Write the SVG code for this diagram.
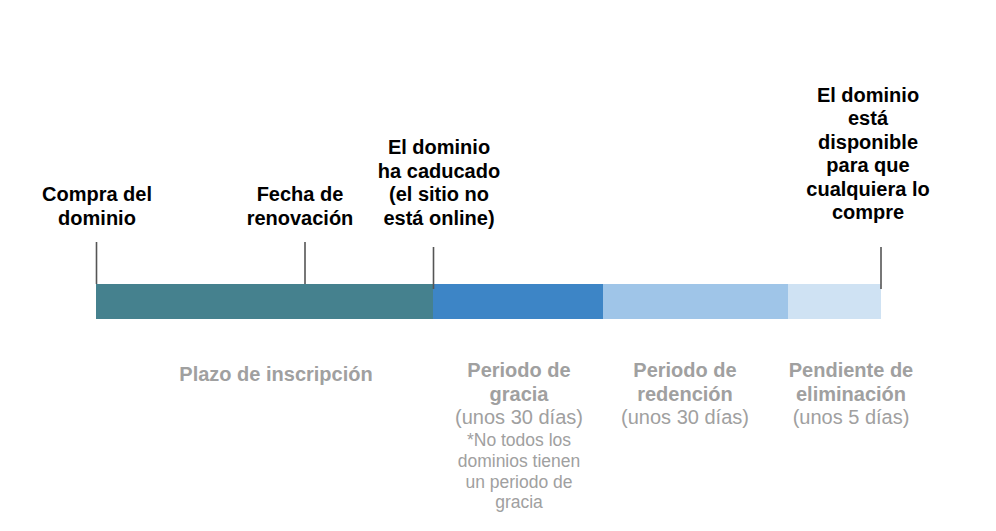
<svg xmlns="http://www.w3.org/2000/svg" width="996" height="531" viewBox="0 0 996 531">
<style>
.lbl{font-family:"Liberation Sans",Arial,sans-serif;font-weight:bold;font-size:20px;fill:#000;text-anchor:middle}
.per{font-family:"Liberation Sans",Arial,sans-serif;font-weight:bold;font-size:20px;fill:#a0a0a0;text-anchor:middle}
.dur{font-family:"Liberation Sans",Arial,sans-serif;font-size:20px;fill:#a0a0a0;text-anchor:middle}
.note{font-family:"Liberation Sans",Arial,sans-serif;font-size:17.5px;fill:#a0a0a0;text-anchor:middle}
.tick{stroke:#555555;stroke-width:1.6;fill:none}
</style>
<rect width="996" height="531" fill="#ffffff"/>
<g id="bar">
<rect x="96" y="284" width="337" height="35" fill="#45818e"/>
<rect x="433" y="284" width="170" height="35" fill="#3d85c6"/>
<rect x="603" y="284" width="185" height="35" fill="#9fc5e8"/>
<rect x="788" y="284" width="93" height="35" fill="#cfe2f3"/>
</g>
<g id="connectors">
<line class="tick" x1="96.5" y1="242" x2="96.5" y2="284"/>
<line class="tick" x1="305" y1="242" x2="305" y2="284"/>
<line class="tick" x1="433.5" y1="247" x2="433.5" y2="289"/>
<line class="tick" x1="881" y1="247" x2="881" y2="289"/>
</g>
<g id="compra">
<text class="lbl" x="97" y="201">Compra del</text>
<text class="lbl" x="97" y="224.5">dominio</text>
</g>
<g id="renovacion">
<text class="lbl" x="300" y="201">Fecha de</text>
<text class="lbl" x="300" y="224.5">renovación</text>
</g>
<g id="caducado">
<text class="lbl" x="439" y="154">El dominio</text>
<text class="lbl" x="439" y="177.5">ha caducado</text>
<text class="lbl" x="439" y="201">(el sitio no</text>
<text class="lbl" x="439" y="224.5">está online)</text>
</g>
<g id="disponible">
<text class="lbl" x="868" y="101.5">El dominio</text>
<text class="lbl" x="868" y="125">está</text>
<text class="lbl" x="868" y="148.5">disponible</text>
<text class="lbl" x="868" y="172">para que</text>
<text class="lbl" x="868" y="195.5">cualquiera lo</text>
<text class="lbl" x="868" y="219">compre</text>
</g>
<g id="plazo">
<text class="per" x="276" y="381">Plazo de inscripción</text>
</g>
<g id="gracia">
<text class="per" x="519" y="377">Periodo de</text>
<text class="per" x="519" y="400.5">gracia</text>
<text class="dur" x="519" y="423.5">(unos 30 días)</text>
<text class="note" x="519" y="445.5">*No todos los</text>
<text class="note" x="519" y="466.5">dominios tienen</text>
<text class="note" x="519" y="487.5">un periodo de</text>
<text class="note" x="519" y="508">gracia</text>
</g>
<g id="redencion">
<text class="per" x="685" y="377">Periodo de</text>
<text class="per" x="685" y="400.5">redención</text>
<text class="dur" x="685" y="423.5">(unos 30 días)</text>
</g>
<g id="eliminacion">
<text class="per" x="851" y="377">Pendiente de</text>
<text class="per" x="851" y="400.5">eliminación</text>
<text class="dur" x="851" y="423.5">(unos 5 días)</text>
</g>
</svg>
